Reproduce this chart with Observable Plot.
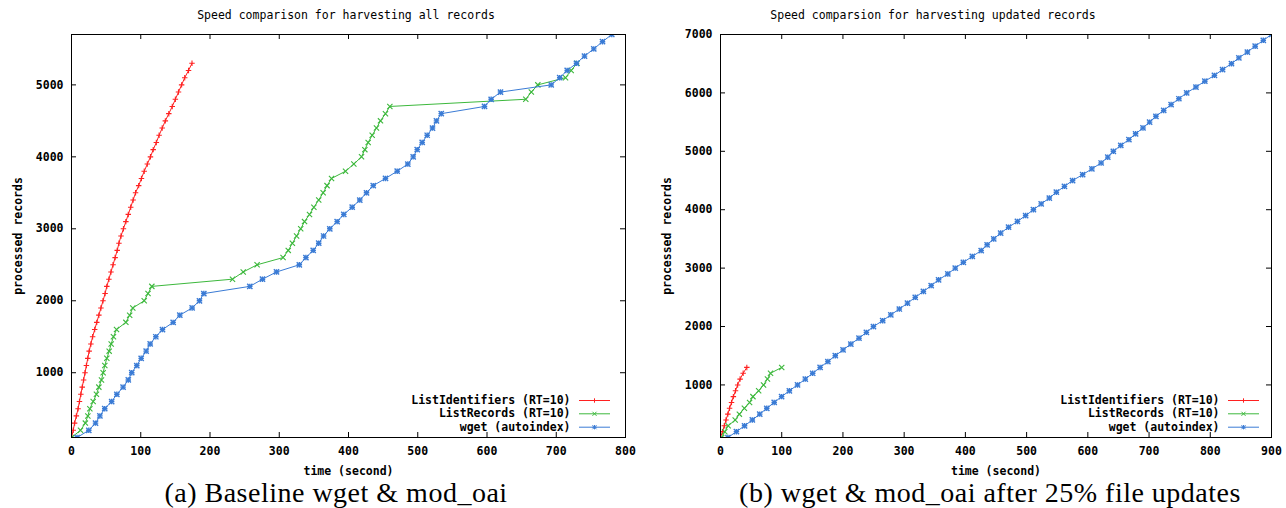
<!DOCTYPE html>
<html><head><meta charset="utf-8">
<script src="https://cdn.jsdelivr.net/npm/d3@7"></script>
<script src="https://cdn.jsdelivr.net/npm/@observablehq/plot@0.6"></script>
<style>
html,body{margin:0;padding:0;background:#fff;}
#root{position:relative;width:1286px;height:508px;overflow:hidden;background:#fff;}
.title{position:absolute;top:8px;font:11.5px "DejaVu Sans Mono",monospace;white-space:nowrap;transform:translateX(-50%);line-height:14px;color:#000;}
.caption{position:absolute;top:480px;font:28px "Liberation Serif",serif;letter-spacing:0.5px;white-space:nowrap;line-height:25px;height:25px;color:#000;transform:translateX(-50%);}
.panel{position:absolute;top:24px;}
</style></head><body><div id="root"></div>
<script>
// ---------- data ----------
const seriesNames = ["ListIdentifiers (RT=10)", "ListRecords (RT=10)", "wget (autoindex)"];
const seriesColors = ["#ff2020", "#3cb83c", "#3a7bd5"];
const titles = ["Speed comparison for harvesting all records", "Speed comparsion for harvesting updated records"];
const captions = ["(a) Baseline wget & mod_oai", "(b) wget & mod_oai after 25% file updates"];
const xLabel = "time (second)";
const yLabel = "processed records";

const xTicksA = [0, 100, 200, 300, 400, 500, 600, 700, 800];
const yTicksA = [1000, 2000, 3000, 4000, 5000];
const xTicksB = [0, 100, 200, 300, 400, 500, 600, 700, 800, 900];
const yTicksB = [1000, 2000, 3000, 4000, 5000, 6000, 7000];

// (a) all records
const recA_LI = [100,200,300,400,500,600,700,800,900,1000,1100,1200,1300,1400,1500,1600,1700,1800,1900,2000,2100,2200,2300,2400,2500,2600,2700,2800,2900,3000,3100,3200,3300,3400,3500,3600,3700,3800,3900,4000,4100,4200,4300,4400,4500,4600,4700,4800,4900,5000,5100,5200,5300];
const timeA_LI = [0,2.5,4.5,7,9.5,11.5,13.5,15.5,17.5,19.5,21.5,23.5,25.5,28,30.5,33.5,36.5,39.5,42.5,45.5,48.5,51,54,57,60,63,66,68.5,71.5,75,78.5,82,85.5,89,92.5,97,101,105,109.5,114,118,122.5,126.5,131,135.5,140.5,145.5,150,154.5,159,163.5,169,174];
const recA_LR = [100,200,300,400,500,600,700,800,900,1000,1100,1200,1300,1400,1500,1600,1700,1800,1900,2000,2100,2200,2300,2400,2500,2600,2700,2800,2900,3000,3100,3200,3300,3400,3500,3600,3700,3800,3900,4000,4100,4200,4300,4400,4500,4600,4700,4800,4900,5000,5100,5200,5300];
const timeA_LR = [0,13,20,23.6,26.5,31.3,36,39.5,43.3,45.7,48.1,51,54.4,57.3,60.6,65,78.5,84,88.5,105,110.5,116,232.5,248,268,305.5,313,319,325,331,336.5,343.7,350,357,363.4,369,375.5,395.7,407.7,418.8,423.6,428.4,434.2,440.4,446.2,453.4,459.7,656,664,673.4,713.4,721.6,730];
const recA_W = [100,200,300,400,500,600,700,800,900,1000,1100,1200,1300,1400,1500,1600,1700,1800,1900,2000,2100,2200,2300,2400,2500,2600,2700,2800,2900,3000,3100,3200,3300,3400,3500,3600,3700,3800,3900,4000,4100,4200,4300,4400,4500,4600,4700,4800,4900,5000,5100,5200,5300,5400,5500,5600,5700];
const timeA_W = [8,25,34.7,41,48,58,65.5,74.5,82,87,94.3,100.6,107.8,113.6,121.8,131.4,146.8,156.4,174.2,184.8,191.1,257.5,275.8,296,329,338.5,349,357,364,373,383.6,393.2,405.3,416.3,426,435.7,453.4,470.3,485.7,493.4,499.2,506.4,513.6,521.3,527,533.9,596.4,606,619.5,692.7,705,715.8,729.2,740.8,754.2,766.8,780.2];

// (b) updated records
const recB_LI = [100,200,300,400,500,600,700,800,900,1000,1100,1200,1300];
const timeB_LI = [0,3.2,6.2,9,12,14.8,18,21,24.5,28,32,37,43];
const recB_LR = [100,200,300,400,500,600,700,800,900,1000,1100,1200,1300];
const timeB_LR = [2,7,12.5,24,30.8,39,47.5,53,62.3,70.3,76.7,81.7,100];
const recB_W = [100,200,300,400,500,600,700,800,900,1000,1100,1200,1300,1400,1500,1600,1700,1800,1900,2000,2100,2200,2300,2400,2500,2600,2700,2800,2900,3000,3100,3200,3300,3400,3500,3600,3700,3800,3900,4000,4100,4200,4300,4400,4500,4600,4700,4800,4900,5000,5100,5200,5300,5400,5500,5600,5700,5800,5900,6000,6100,6200,6300,6400,6500,6600,6700,6800,6900,7000];
const timeB_W = [12.1,26,39.3,52,64.1,75.6,87.7,99.8,112.5,125.8,138.5,150.6,162.7,175.4,187.5,200.2,212.9,226.2,238.3,249.8,264.9,278.2,292.1,305.4,318.1,331.4,344.1,356.2,371.3,383.4,396.7,411.3,425.8,435.5,446.3,457.6,470.5,485,498.4,511.1,523.8,537.1,548.6,561.8,575.1,591.5,606.6,621.7,632.6,641.7,653.8,667.1,678,690.1,700.9,711.2,723.9,736,748.7,761.4,776.6,791.1,806.8,820.1,834.6,846.7,860.6,873.3,886.6,900];

// ---------- drawing ----------
const FONT = "'DejaVu Sans Mono', monospace";
const lineSym = {draw(ctx) { ctx.moveTo(-15.5, 0); ctx.lineTo(15.5, 0); }};
const symbolsFor = [["plus"], ["times"], ["plus", "times"]];
const symbolR = {plus: 1.9, times: 2.5};
const fmt = d3.format("d");

function table(rec, time) { return rec.map((r, i) => ({r, t: time[i]})); }

function build({series, xDomain, yDomain, xTicks, yTicks, width, height, mL, mR, mT, mB, legText, legLine}) {
  const fw = width - mL - mR, fh = height - mT - mB;
  const marks = [
    Plot.ruleX(xTicks, {x: d => d, insetTop: fh - 5, stroke: "#000"}),
    Plot.ruleX(xTicks, {x: d => d, insetBottom: fh - 5, stroke: "#000"}),
    Plot.ruleY(yTicks, {y: d => d, insetRight: fw - 5, stroke: "#000"}),
    Plot.ruleY(yTicks, {y: d => d, insetLeft: fw - 5, stroke: "#000"}),
    Plot.axisX(xTicks, {tickSize: 0, tickPadding: 9, tickFormat: fmt, label: xLabel, labelAnchor: "center", labelArrow: "none", labelOffset: 37, fontWeight: "bold"}),
    Plot.axisY(yTicks, {tickSize: 0, tickPadding: 8, tickFormat: fmt, label: yLabel, labelAnchor: "center", labelArrow: "none", labelOffset: 58, fontWeight: "bold"})
  ];
  series.forEach((data, i) => {
    const color = seriesColors[i];
    marks.push(Plot.line(data, {x: "t", y: "r", stroke: color, strokeWidth: 1, clip: true}));
    for (const s of symbolsFor[i]) {
      marks.push(Plot.dot(data, {x: "t", y: "r", symbol: s, r: symbolR[s], stroke: color, fill: "none", strokeWidth: i === 2 ? 1.4 : 1.1, clip: true}));
    }
  });
  const rowDy = [-37, -23.7, -10.3];
  seriesNames.forEach((name, i) => {
    const color = seriesColors[i];
    marks.push(Plot.text([name], {text: d => d, frameAnchor: "bottom-right", dx: legText, dy: rowDy[i], textAnchor: "end", lineAnchor: "middle", fontWeight: "bold", fill: "#000"}));
    marks.push(Plot.dot([name], {frameAnchor: "bottom-right", dx: legLine, dy: rowDy[i], symbol: lineSym, r: 3, stroke: color, fill: "none", strokeWidth: 1}));
    for (const s of symbolsFor[i]) {
      marks.push(Plot.dot([name], {frameAnchor: "bottom-right", dx: legLine, dy: rowDy[i], symbol: s, r: symbolR[s] * 0.8, stroke: color, fill: "none", strokeWidth: 1}));
    }
  });
  marks.push(Plot.frame({stroke: "#000", strokeWidth: 1}));
  return Plot.plot({
    width, height, marginLeft: mL, marginRight: mR, marginTop: mT, marginBottom: mB,
    x: {domain: xDomain}, y: {domain: yDomain},
    style: {fontFamily: FONT, fontSize: "11.5px", color: "#000", background: "#fff"},
    marks
  });
}

const root = document.getElementById("root");

const left = build({
  series: [table(recA_LI, timeA_LI), table(recA_LR, timeA_LR), table(recA_W, timeA_W)],
  xDomain: [0, 800], yDomain: [100, 5700], xTicks: xTicksA, yTicks: yTicksA,
  width: 643, height: 455, mL: 71, mR: 18, mT: 10, mB: 42, legText: -55, legLine: -31
});
const right = build({
  series: [table(recB_LI, timeB_LI), table(recB_LR, timeB_LR), table(recB_W, timeB_W)],
  xDomain: [0, 900], yDomain: [100, 7000], xTicks: xTicksB, yTicks: yTicksB,
  width: 643, height: 455, mL: 77, mR: 15, mT: 10, mB: 42, legText: -52, legLine: -28
});

function panel(el, x) {
  const d = document.createElement("div");
  d.className = "panel"; d.style.left = x + "px";
  d.appendChild(el); root.appendChild(d);
}
panel(left, 0);
panel(right, 643);

function addText(cls, text, cx) {
  const d = document.createElement("div");
  d.className = cls; d.textContent = text; d.style.left = cx + "px";
  root.appendChild(d);
}
addText("title", titles[0], 346);
addText("title", titles[1], 933);
addText("caption", captions[0], 336);
addText("caption", captions[1], 990);
</script></body></html>
